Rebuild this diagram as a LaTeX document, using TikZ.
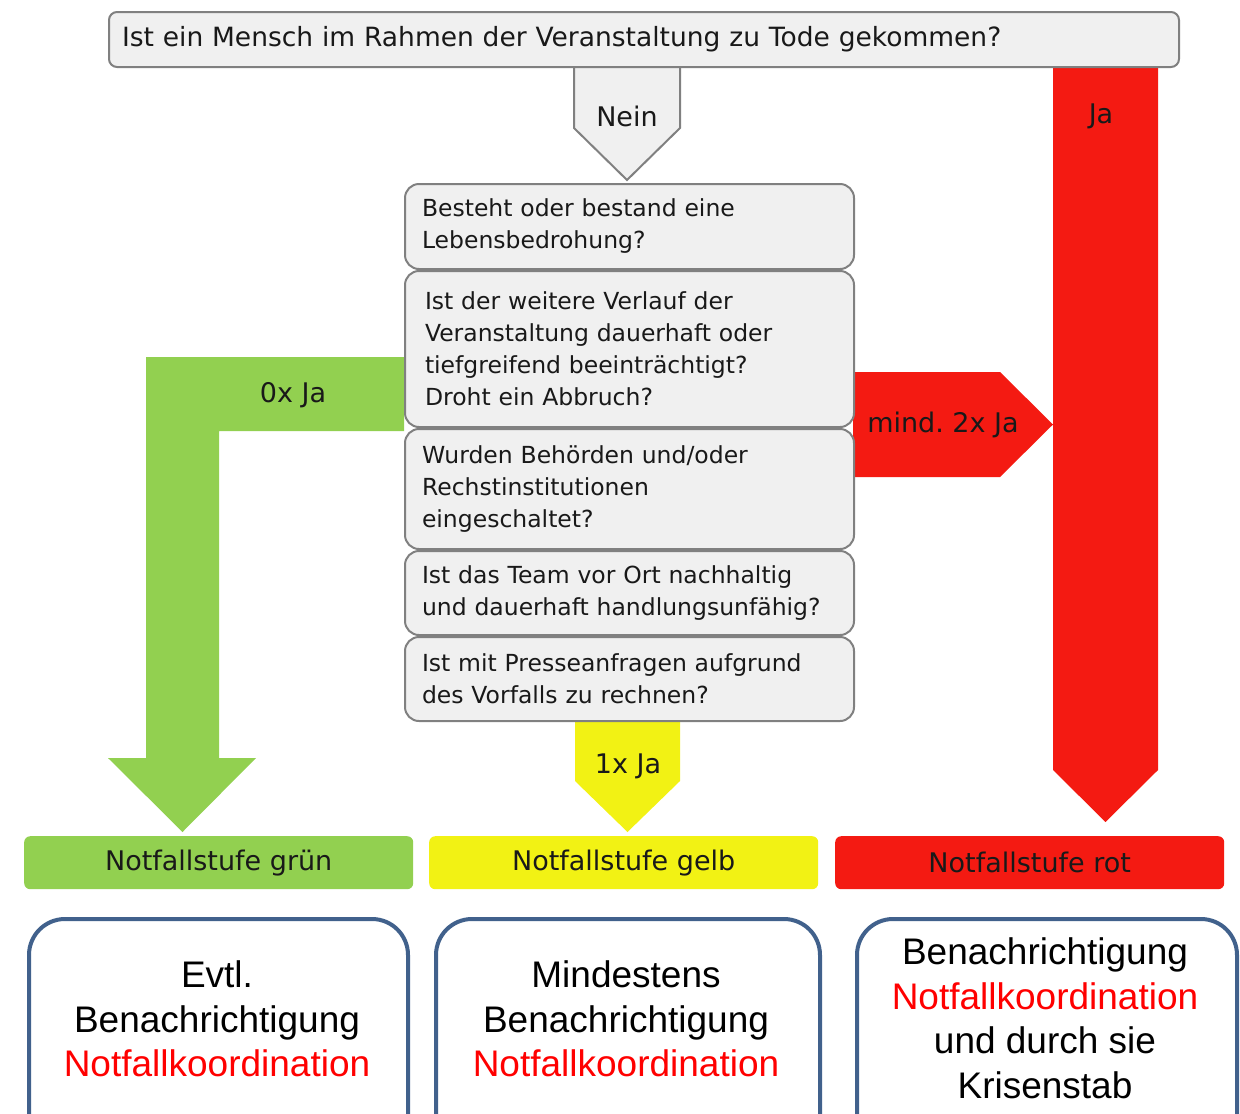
\documentclass[tikz,border=0pt]{standalone}
\usepackage{fontspec}
\setmainfont{Liberation Sans}
\newfontfamily\tah{DejaVu Sans}
\frenchspacing
\definecolor{boxfill}{HTML}{F0F0F0}
\definecolor{boxline}{HTML}{808080}
\definecolor{grn}{HTML}{92D050}
\definecolor{ylw}{HTML}{F2F214}
\definecolor{rd}{HTML}{F41A12}
\definecolor{blu}{HTML}{41618C}
\definecolor{txtred}{HTML}{FF0000}
\begin{document}
\begin{tikzpicture}[x=1pt,y=-1pt,
  lbl/.style={font=\tah\fontsize{27}{32}\selectfont, text=black!90, inner sep=0pt},
  qbox/.style={draw=boxline, fill=boxfill, line width=2pt, rounded corners=14pt,
    anchor=north west, align=left, text width=415pt, inner xsep=17pt, inner ysep=0pt,
    font=\tah\fontsize{23.5}{32}\selectfont, text=black!90},
  level/.style={rounded corners=6pt, minimum width=389pt, minimum height=53pt,
    anchor=north west, inner sep=0pt, font=\tah\fontsize{27}{32}\selectfont, text=black!90},
  resbox/.style={draw=blu, line width=4pt, rounded corners=36pt, anchor=north west,
    minimum height=240pt, inner sep=0pt},
  restxt/.style={align=center, font=\fontsize{37}{44.5}\selectfont, inner sep=0pt}
]
\useasboundingbox (0,0) rectangle (1240,1114);

% arrows (drawn first)
\path[fill=rd] (1053,66) -- (1053,770) -- (1105.5,822) -- (1158,770) -- (1158,66) -- cycle;
\path[fill=rd] (853,372) -- (1000,372) -- (1053,424.5) -- (1000,477) -- (853,477) -- cycle;
\path[fill=grn] (404,357) -- (146,357) -- (146,758) -- (108,758) -- (182.5,832) -- (256,758)
   -- (219,758) -- (219,431) -- (404,431) -- cycle;
\path[fill=ylw] (575,718) -- (575,781) -- (627.5,832) -- (680,781) -- (680,718) -- cycle;
\draw[fill=boxfill, draw=boxline, line width=2pt, line join=miter]
   (574,60) -- (574,128) -- (627,180) -- (680,128) -- (680,60);

% top question
\node[draw=boxline, fill=boxfill, line width=2pt, rounded corners=8pt, anchor=north west,
  minimum width=1070pt, minimum height=55pt, text width=1044pt, inner xsep=13pt, inner ysep=0pt,
  align=left, font=\tah\fontsize{26.5}{32}\selectfont, text=black!90] (top) at (108,11)
  {\raisebox{-2pt}{Ist ein Mensch im Rahmen der Veranstaltung zu Tode gekommen?}};

% question boxes
\node[qbox, minimum height=85pt] (q1) at (404,183)
  {Besteht oder bestand eine\\Lebensbedrohung?};
\node[qbox, minimum height=156pt] (q2) at (404,270)
  {\hspace*{3pt}Ist der weitere Verlauf der\\\hspace*{3pt}Veranstaltung dauerhaft oder\\\hspace*{3pt}tiefgreifend beeinträchtigt?\\\hspace*{3pt}Droht ein Abbruch?};
\node[qbox, minimum height=120pt] (q3) at (404,428)
  {Wurden Behörden und/oder\\Rechstinstitutionen\\eingeschaltet?};
\node[qbox, minimum height=84pt] (q4) at (404,550)
  {Ist das Team vor Ort nachhaltig\\und dauerhaft handlungsunfähig?};
\node[qbox, minimum height=84pt] (q5) at (404,636)
  {Ist mit Presseanfragen aufgrund\\des Vorfalls zu rechnen?};

% arrow labels
\node[lbl] (nein) at (627,116) {Nein};
\node[lbl] (ja) at (1101,116) {Ja};
\node[lbl] (ja0) at (293,395) {0x Ja};
\node[lbl] (ja2) at (943,425) {mind. 2x Ja};
\node[lbl] (ja1) at (628,766) {1x Ja};

% levels
\node[level, fill=grn] (lg) at (24,836) {\raisebox{-2pt}{Notfallstufe grün}};
\node[level, fill=ylw] (ly) at (429,836) {\raisebox{-2pt}{Notfallstufe gelb}};
\node[level, fill=rd] (lr) at (835,836) {Notfallstufe rot};

% result boxes
\node[resbox, minimum width=379pt] (r1) at (27,917) {};
\node[resbox, minimum width=384pt] (r2) at (434,917) {};
\node[resbox, minimum width=380pt] (r3) at (855,917) {};
\node[restxt] (t1) at (217,1019) {Evtl.\\Benachrichtigung\\\textcolor{txtred}{Notfallkoordination}};
\node[restxt] (t2) at (626,1019) {Mindestens\\Benachrichtigung\\\textcolor{txtred}{Notfallkoordination}};
\node[restxt] (t3) at (1045,1018.5) {Benachrichtigung\\\textcolor{txtred}{Notfallkoordination}\\und durch sie\\Krisenstab};
\end{tikzpicture}
\end{document}
